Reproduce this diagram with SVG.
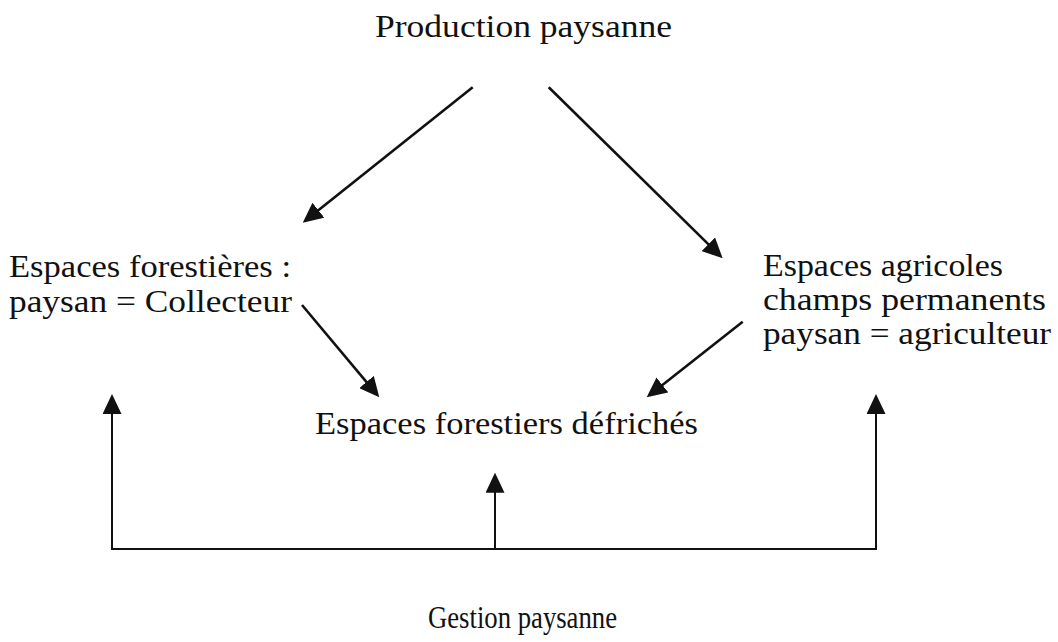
<svg xmlns="http://www.w3.org/2000/svg" width="1058" height="642" viewBox="0 0 1058 642">
<style>
.t{font-family:"Liberation Serif","DejaVu Serif",serif;font-size:31px;fill:#111}
.c{stroke:#111;stroke-width:2.6;fill:none}
.v{stroke:#111;stroke-width:2;fill:none}
</style>
<defs>
<marker id="ah" viewBox="0 0 20 19" refX="8" refY="9.5" markerWidth="20" markerHeight="19" markerUnits="userSpaceOnUse" orient="auto">
<path d="M0,0 L20,9.5 L0,19 z" fill="#111"/>
</marker>
</defs>
<rect width="1058" height="642" fill="#fff"/>
<g id="production"><text class="t" x="375" y="37" textLength="297" lengthAdjust="spacingAndGlyphs">Production paysanne</text></g>
<g id="forestieres">
<text class="t" x="9" y="277" textLength="282" lengthAdjust="spacingAndGlyphs">Espaces forestières :</text>
<text class="t" x="9" y="312" textLength="283" lengthAdjust="spacingAndGlyphs">paysan = Collecteur</text>
</g>
<g id="agricoles">
<text class="t" x="763" y="276" textLength="240" lengthAdjust="spacingAndGlyphs">Espaces agricoles</text>
<text class="t" x="763" y="310" textLength="283" lengthAdjust="spacingAndGlyphs">champs permanents</text>
<text class="t" x="763" y="344" textLength="288" lengthAdjust="spacingAndGlyphs">paysan = agriculteur</text>
</g>
<g id="defriches"><text class="t" x="315" y="434" textLength="383" lengthAdjust="spacingAndGlyphs">Espaces forestiers défrichés</text></g>
<g id="gestion"><text class="t" x="428" y="628" textLength="189" lengthAdjust="spacingAndGlyphs">Gestion paysanne</text></g>
<g id="connectors">
<line class="c" x1="472.7" y1="87.3" x2="312.1" y2="215.2" marker-end="url(#ah)"/>
<line class="c" x1="548.7" y1="87.3" x2="714.1" y2="249.9" marker-end="url(#ah)"/>
<line class="c" x1="302" y1="305" x2="371.6" y2="388.1" marker-end="url(#ah)"/>
<line class="c" x1="742.7" y1="321.7" x2="656.1" y2="389.9" marker-end="url(#ah)"/>
<line class="v" x1="111" y1="549" x2="877" y2="549"/>
<line class="v" x1="112" y1="549" x2="112" y2="406" marker-end="url(#ah)"/>
<line class="v" x1="495" y1="549" x2="495" y2="484.7" marker-end="url(#ah)"/>
<line class="v" x1="876" y1="549" x2="876" y2="406" marker-end="url(#ah)"/>
</g>
</svg>
